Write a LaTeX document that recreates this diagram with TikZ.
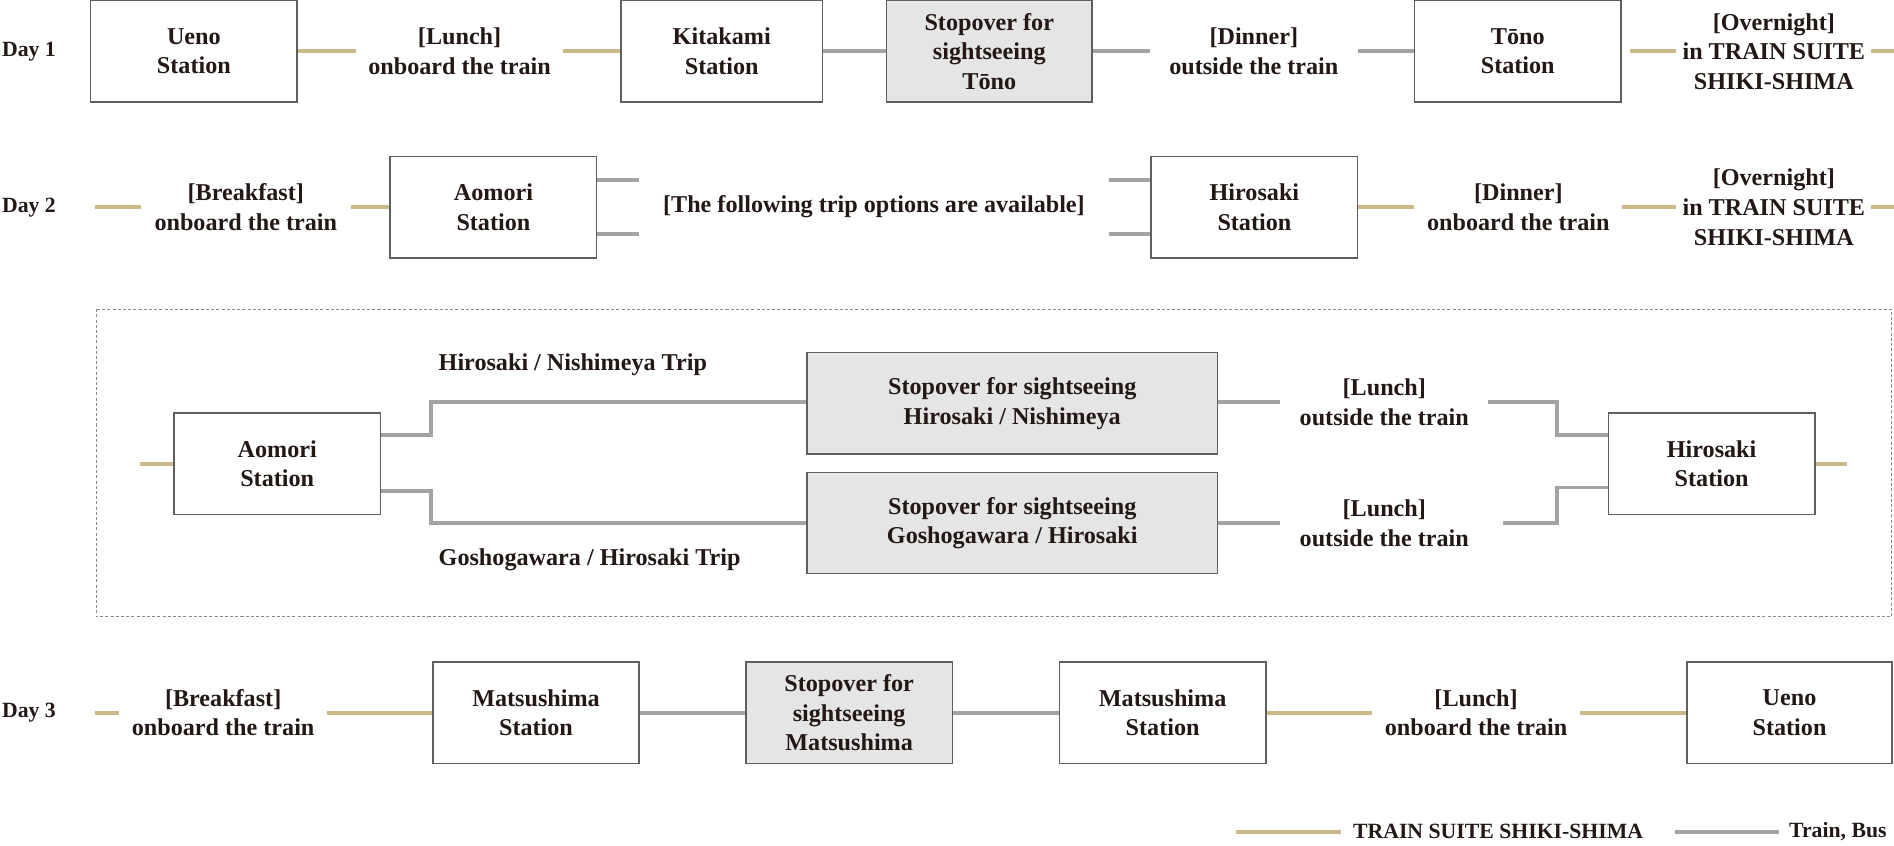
\documentclass[tikz,border=0pt]{standalone}
\usepackage{fontspec}
\setmainfont{Liberation Serif}
\definecolor{gold}{HTML}{CBBA88}
\definecolor{railgray}{HTML}{A3A3A3}
\definecolor{stopfill}{HTML}{E5E5E5}
\definecolor{boxline}{HTML}{5F5F5F}
\definecolor{ink}{HTML}{231815}
\definecolor{framec}{HTML}{8A8A8A}
\begin{document}
\begin{tikzpicture}[x=1pt,y=-1pt,
  every node/.style={text=ink, font=\fontsize{20}{24.5}\selectfont\bfseries, inner sep=0pt, align=center},
  station/.style={draw=boxline, line width=1.2pt, fill=white, minimum height=84pt},
  stopbox/.style={station, fill=stopfill},
  lbl/.style={minimum height=60pt},
  gl/.style={draw=gold, line width=3.5pt},
  rl/.style={draw=railgray, line width=3.5pt, line join=miter},
  daylbl/.style={font=\fontsize{18}{22}\selectfont\bfseries, anchor=west},
  legtext/.style={font=\fontsize{18}{22}\selectfont\bfseries, anchor=west},
  frame/.style={draw=framec, line width=0.8pt, dash pattern=on 2.5pt off 1.8pt}]
\useasboundingbox (0,0) rectangle (1568,700);

% ---------- Day 1 ----------
\node[daylbl] (d1) at (1.5,42.5) {Day 1};
\node[station, minimum width=171pt] (ueno1) at (160.5,42.5) {Ueno\\Station};
\node[lbl, minimum width=171pt] (lunch1) at (380.5,42.5) {[Lunch]\\onboard the train};
\node[station, minimum width=167pt] (kita) at (597.5,42.5) {Kitakami\\Station};
\node[stopbox, minimum width=170pt] (stop1) at (819,42.5) {Stopover for\\sightseeing\\Tōno};
\node[lbl, minimum width=172pt] (dinner1) at (1038,42.5) {[Dinner]\\outside the train};
\node[station, minimum width=171pt] (tono) at (1256.5,42.5) {Tōno\\Station};
\node[lbl, minimum width=161pt] (over1) at (1468.5,42.5) {[Overnight]\\in TRAIN SUITE\\SHIKI-SHIMA};
\coordinate (end1) at (1568,42.5);
\draw[gl] (ueno1.east) -- (lunch1.west);
\draw[gl] (lunch1.east) -- (kita.west);
\draw[rl] (kita.east) -- (stop1.west);
\draw[rl] (stop1.east) -- (dinner1.west);
\draw[rl] (dinner1.east) -- (tono.west);
\draw[gl] ([xshift=7pt]tono.east) -- (over1.west);
\draw[gl] (over1.east) -- (end1);

% ---------- Day 2 ----------
\node[daylbl] (d2) at (1.5,171.5) {Day 2};
\coordinate (start2) at (79,171.5);
\node[lbl, minimum width=173pt] (bf2) at (203.5,171.5) {[Breakfast]\\onboard the train};
\node[station, minimum width=171pt] (aom2) at (408.5,171.5) {Aomori\\Station};
\node[lbl, minimum width=388pt] (opts) at (723.5,171.5) {[The following trip options are available]};
\node[station, minimum width=171pt] (hiro2) at (1038.5,171.5) {Hirosaki\\Station};
\node[lbl, minimum width=172pt] (dinner2) at (1257,171.5) {[Dinner]\\onboard the train};
\node[lbl, minimum width=161pt] (over2) at (1468.5,171.5) {[Overnight]\\in TRAIN SUITE\\SHIKI-SHIMA};
\coordinate (end2) at (1568,171.5);
\draw[gl] (start2) -- (bf2.west);
\draw[gl] (bf2.east) -- (aom2.west);
\draw[rl] (aom2.east |- 0,149) -- (opts.west |- 0,149);
\draw[rl] (aom2.east |- 0,194) -- (opts.west |- 0,194);
\draw[rl] (opts.east |- 0,149) -- (hiro2.west |- 0,149);
\draw[rl] (opts.east |- 0,194) -- (hiro2.west |- 0,194);
\draw[gl] (hiro2.east) -- (dinner2.west);
\draw[gl] (dinner2.east) -- (over2.west);
\draw[gl] (over2.east) -- (end2);

% ---------- Trip options ----------
\draw[frame] (79.5,256) rectangle (1566,510.5);
\node[station, minimum width=171pt] (aomB) at (229.5,384) {Aomori\\Station};
\coordinate (sB) at (116,384);
\node[stopbox, minimum width=340pt] (stA) at (838,334) {Stopover for sightseeing\\Hirosaki / Nishimeya};
\node[stopbox, minimum width=340pt] (stB) at (838,433) {Stopover for sightseeing\\Goshogawara / Hirosaki};
\node[lbl, minimum width=172pt] (luA) at (1146,333) {[Lunch]\\outside the train};
\node[lbl, minimum width=172pt] (luB) at (1146,433) {[Lunch]\\outside the train};
\node[station, minimum width=171pt] (hiroB) at (1417,384) {Hirosaki\\Station};
\coordinate (eB) at (1529,384);
\node[anchor=west] (tripA) at (363,302) {Hirosaki / Nishimeya Trip};
\node[anchor=west] (tripB) at (363,463.5) {Goshogawara / Hirosaki Trip};
\draw[gl] (sB) -- (aomB.west);
\draw[rl, line width=3pt] (aomB.east |- 0,360) -- (357,360) -- (357,333) -- (stA.west |- 0,333);
\draw[rl, line width=3pt] (aomB.east |- 0,406.5) -- (357,406.5) -- (357,433) -- (stB.west);
\draw[rl, line width=3pt] (stA.east |- 0,333) -- (luA.west |- 0,333);
\draw[rl, line width=3pt] (luA.east |- 0,333) -- (1289,333) -- (1289,360) -- (hiroB.west |- 0,360);
\draw[rl, line width=3pt] (stB.east) -- (luB.west);
\draw[rl, line width=3pt] ([xshift=12pt]luB.east) -- (1289,433) -- (1289,403.5) -- (hiroB.west |- 0,403.5);
\draw[gl] (hiroB.east) -- (eB);

% ---------- Day 3 ----------
\node[daylbl] (d3) at (1.5,590) {Day 3};
\coordinate (s3) at (79,590);
\node[lbl, minimum width=171.5pt] (bf3) at (184.75,590) {[Breakfast]\\onboard the train};
\node[station, minimum width=170.5pt] (mat1) at (443.75,590) {Matsushima\\Station};
\node[stopbox, minimum width=171pt] (stop3) at (703,590) {Stopover for\\sightseeing\\Matsushima};
\node[station, minimum width=171pt] (mat2) at (962.5,590) {Matsushima\\Station};
\node[lbl, minimum width=172pt] (lunch3) at (1222,590) {[Lunch]\\onboard the train};
\node[station, minimum width=170pt] (ueno3) at (1481.5,590) {Ueno\\Station};
\draw[gl] (s3) -- (bf3.west);
\draw[gl] (bf3.east) -- (mat1.west);
\draw[rl] (mat1.east) -- (stop3.west);
\draw[rl] (stop3.east) -- (mat2.west);
\draw[gl] (mat2.east) -- (lunch3.west);
\draw[gl] (lunch3.east) -- (ueno3.west);

% ---------- Legend ----------
\coordinate (lg1) at (1023,688.5);
\coordinate (lg2) at (1110,688.5);
\coordinate (lg3) at (1387,688.5);
\coordinate (lg4) at (1473,688.5);
\node[legtext] (lt1) at (1120,688.5) {TRAIN SUITE SHIKI-SHIMA};
\node[legtext] (lt2) at (1481,688.5) {Train, Bus};
\draw[gl] (lg1) -- (lg2);
\draw[rl] (lg3) -- (lg4);
\end{tikzpicture}
\end{document}
